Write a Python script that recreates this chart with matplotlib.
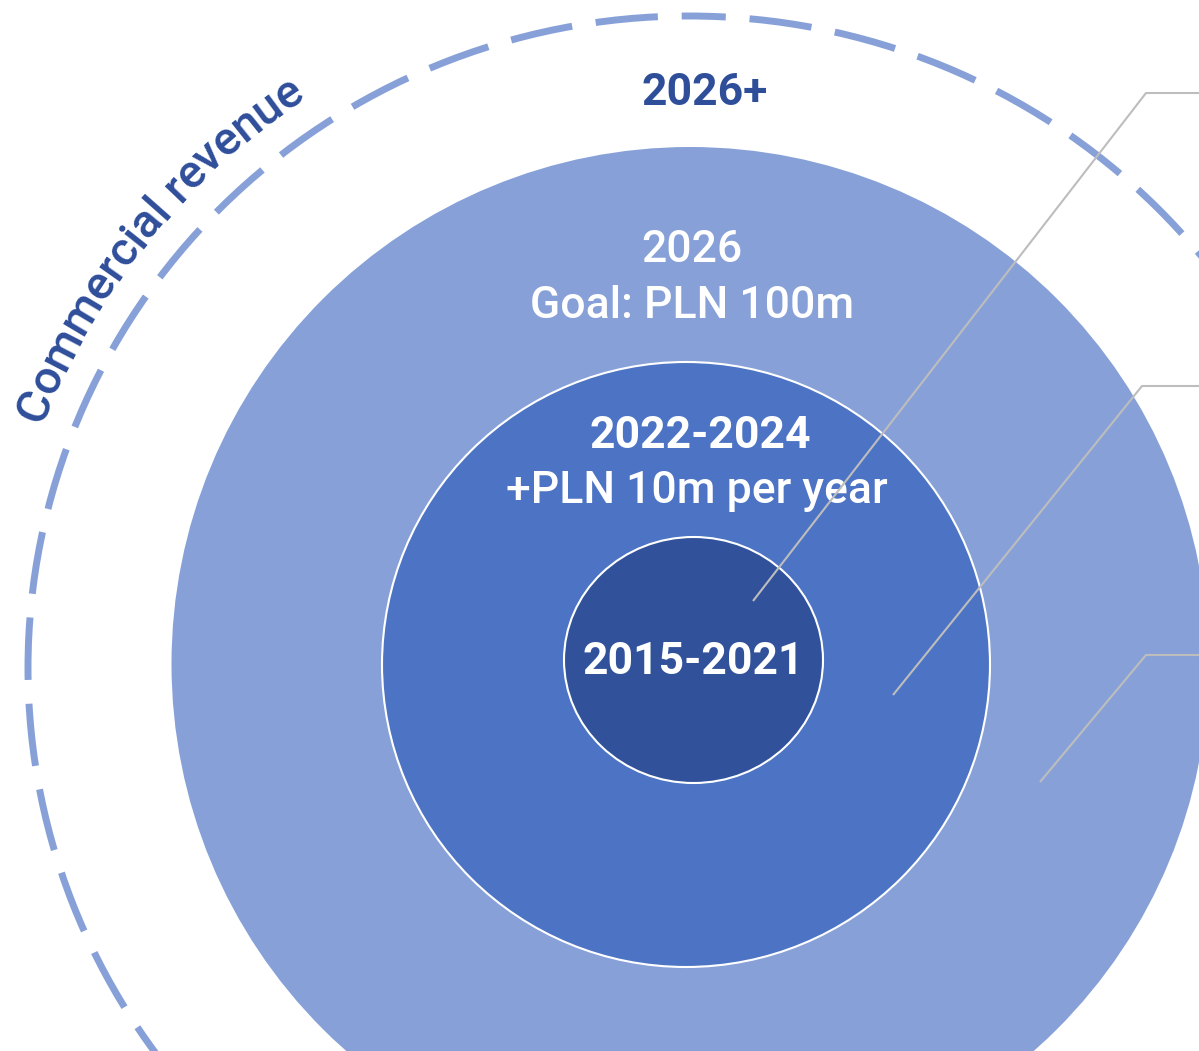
import numpy as np
import matplotlib
matplotlib.use("Agg")
import matplotlib.pyplot as plt
from matplotlib.patches import Ellipse
from matplotlib.font_manager import FontProperties

# stages of the diagram, inner to outer
stage_labels = ["2015-2021", "2022-2024\n+PLN 10m per year", "2026\nGoal: PLN 100m", "2026+"]
arc_label = "Commercial revenue"

light = "#87A1D8"
mid = "#4D74C4"
dark = "#31529B"
navy = "#2F4E9A"
grey = "#BDBDBD"

plt.rcParams['font.family'] = ['Roboto', 'DejaVu Sans']

fig = plt.figure(figsize=(11.99, 10.51), dpi=100)
ax = fig.add_axes([0, 0, 1, 1])
ax.set_xlim(0, 1199)
ax.set_ylim(1051, 0)
ax.axis('off')

# rings (pixel geometry)
ax.add_patch(Ellipse((690, 664), 1037, 1034, facecolor=light, edgecolor='none', zorder=1))
ax.add_patch(Ellipse((686, 664.5), 608, 605, facecolor=mid, edgecolor='white', lw=1.5, zorder=2))
ax.add_patch(Ellipse((693.5, 660), 259, 246, facecolor=dark, edgecolor='white', lw=1.5, zorder=3))

# dashed outer ring
cx, cy, rx, ry = 689, 668, 661, 652
ax.add_patch(Ellipse((cx, cy), 2 * rx, 2 * ry, fill=False, edgecolor=light, lw=5.0,
                     linestyle=(3.7, (9.0, 3.43)), capstyle='butt', zorder=2))

# leader lines
leaders = [((753, 601), (1146, 93)), ((893, 695), (1142, 386)), ((1040, 782), (1146, 655))]
for (x0, y0), (x1, y1) in leaders:
    ax.plot([x0, x1, 1205], [y0, y1, y1], color=grey, lw=1.5, zorder=6, solid_capstyle='butt')

fs = 32
wt = 'medium'
ax.text(705, 105, stage_labels[3], color=navy, fontsize=fs, fontweight='bold', ha='center', va='baseline')
l1, l2 = stage_labels[2].split("\n")
ax.text(692, 262, l1, color='white', fontsize=fs, fontweight=wt, ha='center', va='baseline', zorder=5)
ax.text(692, 318, l2, color='white', fontsize=fs, fontweight=wt, ha='center', va='baseline', zorder=5)
l1, l2 = stage_labels[1].split("\n")
ax.text(700, 448, l1, color='white', fontsize=fs, fontweight='bold', ha='center', va='baseline', zorder=5)
ax.text(697, 503, l2, color='white', fontsize=fs, fontweight=wt, ha='center', va='baseline', zorder=5)
ax.text(693, 674, stage_labels[0], color='white', fontsize=fs, fontweight='bold', ha='center', va='baseline', zorder=5)

# curved label along the dashed ring
fp = FontProperties(family=['Roboto', 'DejaVu Sans'], size=34, weight='medium')
renderer = fig.canvas.get_renderer()
def tw(s):
    if not s:
        return 0.0
    return renderer.get_text_width_height_descent(s, fp, ismath=False)[0]
total = tw(arc_label)
theta_mid = np.deg2rad(141.4)
r_space = 704
brx, bry = rx + 31, ry + 33
for i, ch in enumerate(arc_label):
    if ch == ' ':
        continue
    c = (tw(arc_label[:i]) + tw(arc_label[:i + 1])) / 2
    th = theta_mid + (total / 2 - c) / r_space
    px = cx + brx * np.cos(th)
    py = cy - bry * np.sin(th)
    rot = np.degrees(np.arctan2(-bry * np.cos(th), brx * np.sin(th)))
    ax.text(px, py, ch, fontproperties=fp, color=navy, rotation=rot,
            rotation_mode='anchor', ha='center', va='baseline')

fig.savefig("out.png", dpi=100)
